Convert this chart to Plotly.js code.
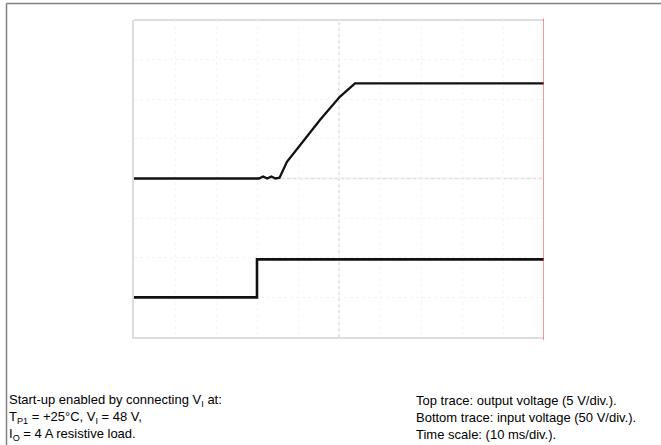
<!DOCTYPE html>
<html>
<head>
<meta charset="utf-8">
<script src="https://cdn.plot.ly/plotly-3.0.1.min.js"></script>
<style>html,body{margin:0;padding:0;background:#fff;}#chart{width:661px;height:445px;}</style>
</head>
<body>
<div id="chart"></div>
<script>
// Time in ms (10 ms/div), output voltage in V (5 V/div), input voltage in V (50 V/div)
var outTime = [0, 30.5, 31.5, 32.5, 33.5, 34.5, 35.5, 37.3, 40.5, 45.4, 50.2, 53.9, 100];
var outVolt = [0, 0, 0.25, 0, 0.25, 0, 0.1, 2.1, 4.2, 7.4, 10.3, 12.0, 12.0];
var inTime = [0, 30, 30, 100];
var inVolt = [0, 0, 48, 48];
var notesLeft = [
  "Start-up enabled by connecting V<sub>I</sub> at:",
  "T<sub>P1</sub> = +25°C, V<sub>I</sub> = 48 V,",
  "I<sub>O</sub> = 4 A resistive load."
];
var notesRight = [
  "Top trace: output voltage (5 V/div.).",
  "Bottom trace: input voltage (50 V/div.).",
  "Time scale: (10 ms/div.)."
];

var traces = [
  {x: outTime, y: outVolt, type: 'scatter', mode: 'lines', yaxis: 'y',
   line: {color: '#111', width: 2.3}, hoverinfo: 'skip'},
  {x: inTime, y: inVolt, type: 'scatter', mode: 'lines', yaxis: 'y2',
   line: {color: '#111', width: 2.6}, hoverinfo: 'skip'}
];

var fnt = {family: 'Liberation Sans, Arial, sans-serif', size: 13, color: '#000'};
var ann = [
  {xref: 'paper', yref: 'paper', x: (7 - 134) / 410, y: 1 - (417 - 20) / 317,
   xanchor: 'left', yanchor: 'middle', showarrow: false, align: 'left',
   text: notesLeft.join('<br>'), font: fnt},
  {xref: 'paper', yref: 'paper', x: (414 - 134) / 410, y: 1 - (417 - 20) / 317,
   xanchor: 'left', yanchor: 'middle', showarrow: false, align: 'left',
   text: notesRight.join('<br>'), font: fnt}
];

var layout = {
  width: 661, height: 445,
  margin: {l: 134, r: 117, t: 20, b: 108},
  paper_bgcolor: '#fff', plot_bgcolor: '#fff',
  showlegend: false,
  xaxis: {range: [0, 100], dtick: 10, showticklabels: false, ticks: '',
    showgrid: true, gridcolor: '#f5f5f5', griddash: 'dot', gridwidth: 1,
    zeroline: false, showline: true, linecolor: '#dddddd', linewidth: 2, fixedrange: true},
  yaxis: {range: [-20, 20], dtick: 5, showticklabels: false, ticks: '',
    showgrid: true, gridcolor: '#f5f5f5', griddash: 'dot', gridwidth: 1,
    zeroline: false, showline: true, linecolor: '#dddddd', linewidth: 2, fixedrange: true},
  yaxis2: {range: [-50, 350], overlaying: 'y', showticklabels: false, ticks: '',
    showgrid: false, zeroline: false, showline: false, fixedrange: true},
  annotations: ann,
  shapes: [
    {type: 'line', layer: 'below', xref: 'paper', yref: 'paper', x0: 0, x1: 1, y0: 1, y1: 1,
     line: {color: '#dddddd', width: 2}},
    {type: 'line', layer: 'below', xref: 'paper', yref: 'y', x0: 0, x1: 1, y0: 0, y1: 0,
     line: {color: '#dddddd', width: 1.5}},
    {type: 'line', layer: 'below', xref: 'x', yref: 'paper', x0: 50, x1: 50, y0: 0, y1: 1,
     line: {color: '#cccccc', width: 1, dash: 'dot'}},
    {type: 'line', xref: 'x', yref: 'paper', x0: 100, x1: 100, y0: -0.01, y1: 1.005,
     line: {color: '#ee5555', width: 1.2}},
    {type: 'line', xref: 'paper', yref: 'paper', x0: (6.5 - 134) / 410, x1: (6.5 - 134) / 410,
     y0: 1 - (445 - 20) / 317, y1: 1 + (20 - 3.5) / 317, line: {color: '#808080', width: 1.5}},
    {type: 'line', xref: 'paper', yref: 'paper', x0: (6.5 - 134) / 410, x1: (661 - 134) / 410,
     y0: 1 + (20 - 3.5) / 317, y1: 1 + (20 - 3.5) / 317, line: {color: '#808080', width: 1.5}}
  ]
};

Plotly.newPlot('chart', traces, layout, {displayModeBar: false, staticPlot: true});
</script>
</body>
</html>
